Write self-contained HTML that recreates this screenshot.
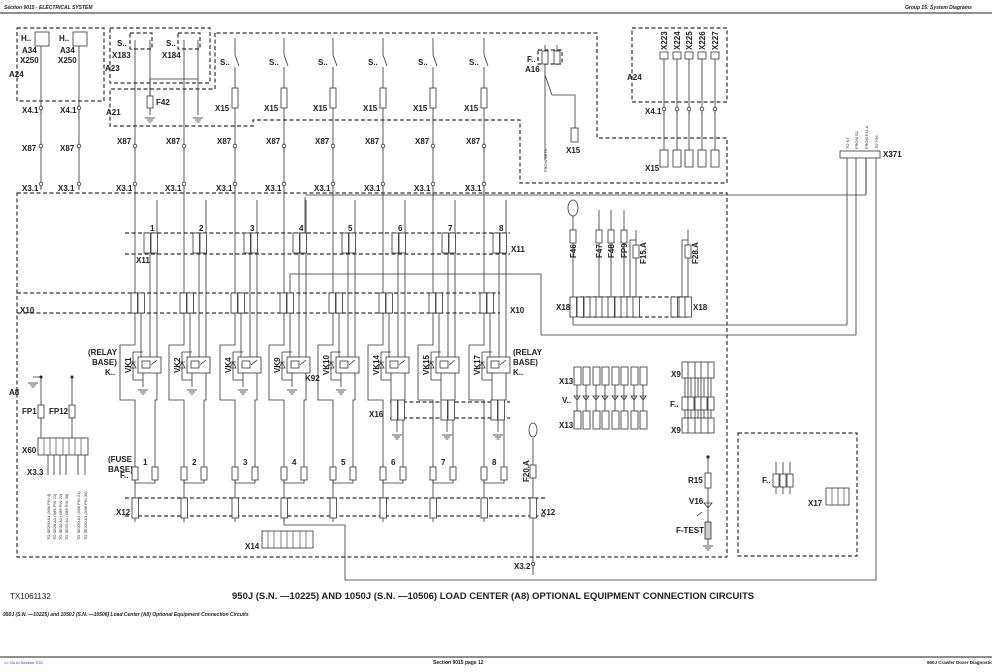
<!DOCTYPE html>
<html><head><meta charset="utf-8"><style>
html,body{margin:0;padding:0;background:#fff}
svg{display:block}
text{font-family:"Liberation Sans",sans-serif;font-weight:bold;fill:#222}
.l{font-size:8px}
.s{font-size:4px;font-weight:normal}
</style></head><body>
<svg width="992" height="672" viewBox="0 0 992 672" xmlns="http://www.w3.org/2000/svg">
<defs>
<g id="gnd" stroke="#333" stroke-width="0.8"><line x1="-5" y1="0" x2="5" y2="0"/><line x1="-3" y1="2" x2="3" y2="2"/><line x1="-1.5" y1="4" x2="1.5" y2="4"/></g>
<g id="pin" stroke="#333" stroke-width="0.8" fill="#fff"><circle cx="0" cy="-2" r="1.8"/><line x1="0" y1="0" x2="0" y2="3"/></g>
<rect id="fz" x="-3" y="0" width="6" height="13" fill="#fff" stroke="#333" stroke-width="0.8"/>
<rect id="cn" x="-3" y="0" width="6.5" height="20" fill="#fff" stroke="#333" stroke-width="0.8"/>
<g id="col" stroke="#333" stroke-width="0.8" fill="none">
  <path d="M0,190 V345 H-15 V400 H0 V498"/>
  <line x1="0" y1="517" x2="0" y2="522"/>
  <line x1="6" y1="313" x2="6" y2="357"/>
  <line x1="15" y1="253" x2="15" y2="357"/>
  <path d="M22,200 V357 M22,373 V400 H20 V468"/>
  <rect x="3" y="357" width="23" height="16" fill="#fff"/>
  <rect x="7" y="361" width="8" height="7"/>
  <path d="M-2,352 V380 M-5,362 H1 M-2,362 L-5,368 H1 Z M-2,352 H8 M-2,380 H8"/>
  <path d="M8,373 V387"/>
  <path d="M16,365 L22,360"/>
  <path d="M0,480 V483 H20 V480"/>
  <use href="#cn" x="-1" y="293"/><use href="#cn" x="6" y="293"/>
  <use href="#cn" x="12" y="233"/><use href="#cn" x="19" y="233"/>
  <use href="#fz" x="0" y="467"/><use href="#fz" x="20" y="467"/>
  <use href="#cn" x="0" y="498"/>
</g>
<g id="sw" stroke="#333" stroke-width="0.8" fill="none"><line x1="0" y1="38" x2="0" y2="55"/><line x1="0" y1="55" x2="4" y2="66"/><line x1="0" y1="67" x2="0" y2="190"/><rect x="-3" y="88" width="6" height="20" fill="#fff"/></g>
</defs>

<!-- header -->
<text x="4" y="9" style="font-size:5px;font-style:italic">Section 9015 - ELECTRICAL SYSTEM</text>
<text x="905" y="9" style="font-size:5px;font-style:italic">Group 15: System Diagrams</text>
<line x1="0" y1="13" x2="992" y2="13" stroke="#222" stroke-width="1"/>

<g stroke="#333" stroke-width="1.2" fill="none" stroke-dasharray="4,2.5">
  <rect x="17" y="28" width="87" height="73"/>
  <path d="M110,28 H210 V83 H110 Z"/>
  <path d="M215,33 V89 H110 V126 H253 V120 H520 V183 H727 V138 H597 V33 Z"/>
  <rect x="632" y="28" width="95" height="74"/>
  <rect x="17" y="193" width="710" height="364"/>
  <rect x="738" y="433" width="119" height="123"/>
  <path d="M125,233 H510 M125,254 H510"/>
  <path d="M17,293 H500 M17,313 H500"/>
  <path d="M390,402 H510 M390,418 H510"/>
  <path d="M125,498 H545 M125,516 H545"/>
  <path d="M580,297 H690 M580,317 H690"/>
  <rect x="538" y="50" width="24" height="14"/>
  <rect x="130" y="33" width="22" height="16"/><rect x="178" y="33" width="22" height="16"/>
</g>

<!-- top left A34 -->
<g stroke="#333" stroke-width="0.8" fill="none">
  <rect x="35" y="32" width="14" height="14"/><rect x="73" y="32" width="14" height="14"/>
  <line x1="41" y1="46" x2="41" y2="190"/><line x1="79" y1="46" x2="79" y2="190"/>
  <line x1="135" y1="40" x2="135" y2="190"/><line x1="150" y1="40" x2="150" y2="100"/>
  <line x1="184" y1="40" x2="184" y2="190"/><line x1="198" y1="40" x2="198" y2="80"/>
  <path d="M150,79 H198 M150,79 V115 M198,80 V115"/>
  <rect x="147" y="96" width="6" height="12" fill="#fff"/>
  <line x1="305" y1="197" x2="305" y2="233"/>
  <path d="M305,195 H866 M290,293 V274 H541 V335 H856 M573,325 H847"/>
  <path d="M847,158 V325 M856,158 V335 M866,158 V195 M876,158 V580 H345 V525 H284 V517"/>
  <rect x="840" y="151" width="40" height="7" fill="#fff"/>
  <path d="M866,158 V195"/>
</g>
<use href="#gnd" x="150" y="118"/><use href="#gnd" x="198" y="118"/>
<text class="l" x="21" y="41">H..</text><text class="l" x="59" y="41">H..</text>
<text class="l" x="22" y="53">A34</text><text class="l" x="60" y="53">A34</text>
<text class="l" x="20" y="63">X250</text><text class="l" x="58" y="63">X250</text>
<text class="l" x="9" y="77">A24</text>
<text class="l" x="117" y="46">S..</text><text class="l" x="166" y="46">S..</text>
<text class="l" x="112" y="58">X183</text><text class="l" x="162" y="58">X184</text>
<text class="l" x="105" y="71">A23</text>
<text class="l" x="106" y="115">A21</text>
<text class="l" x="156" y="105">F42</text>

<!-- switch columns -->
<use href="#sw" x="235"/><use href="#sw" x="284"/><use href="#sw" x="333"/><use href="#sw" x="383"/><use href="#sw" x="433"/><use href="#sw" x="484"/>
<text class="l" x="220" y="65">S..</text><text class="l" x="269" y="65">S..</text><text class="l" x="318" y="65">S..</text><text class="l" x="368" y="65">S..</text><text class="l" x="418" y="65">S..</text><text class="l" x="469" y="65">S..</text>
<text class="l" x="215" y="111">X15</text><text class="l" x="264" y="111">X15</text><text class="l" x="313" y="111">X15</text><text class="l" x="363" y="111">X15</text><text class="l" x="413" y="111">X15</text><text class="l" x="464" y="111">X15</text>

<!-- pins rows -->
<g>
<use href="#pin" x="41" y="110"/><use href="#pin" x="79" y="110"/>
<use href="#pin" x="41" y="148"/><use href="#pin" x="79" y="148"/>
<use href="#pin" x="135" y="148"/><use href="#pin" x="184" y="148"/><use href="#pin" x="235" y="148"/><use href="#pin" x="284" y="148"/><use href="#pin" x="333" y="148"/><use href="#pin" x="383" y="148"/><use href="#pin" x="433" y="148"/><use href="#pin" x="484" y="148"/>
<use href="#pin" x="41" y="186"/><use href="#pin" x="79" y="186"/>
<use href="#pin" x="135" y="186"/><use href="#pin" x="184" y="186"/><use href="#pin" x="235" y="186"/><use href="#pin" x="284" y="186"/><use href="#pin" x="333" y="186"/><use href="#pin" x="383" y="186"/><use href="#pin" x="433" y="186"/><use href="#pin" x="484" y="186"/>
</g>
<text class="l" x="22" y="113">X4.1</text><text class="l" x="60" y="113">X4.1</text>
<text class="l" x="22" y="151">X87</text><text class="l" x="60" y="151">X87</text>
<text class="l" x="117" y="144">X87</text><text class="l" x="166" y="144">X87</text><text class="l" x="217" y="144">X87</text><text class="l" x="266" y="144">X87</text><text class="l" x="315" y="144">X87</text><text class="l" x="365" y="144">X87</text><text class="l" x="415" y="144">X87</text><text class="l" x="466" y="144">X87</text>
<text class="l" x="22" y="191">X3.1</text><text class="l" x="58" y="191">X3.1</text>
<text class="l" x="116" y="191">X3.1</text><text class="l" x="165" y="191">X3.1</text><text class="l" x="216" y="191">X3.1</text><text class="l" x="265" y="191">X3.1</text><text class="l" x="314" y="191">X3.1</text><text class="l" x="364" y="191">X3.1</text><text class="l" x="414" y="191">X3.1</text><text class="l" x="465" y="191">X3.1</text>

<!-- relay columns -->
<use href="#col" x="135"/><use href="#col" x="184"/><use href="#col" x="235"/><use href="#col" x="284"/><use href="#col" x="333"/><use href="#col" x="383"/><use href="#col" x="433"/><use href="#col" x="484"/>
<use href="#gnd" x="143" y="390"/><use href="#gnd" x="192" y="390"/><use href="#gnd" x="243" y="390"/><use href="#gnd" x="292" y="390"/><use href="#gnd" x="341" y="390"/>
<g stroke="#333" stroke-width="0.8" fill="none">
<path d="M391,387 V404 M441,387 V404 M492,387 V404"/>
<path d="M397,418 V432 M447,418 V432 M498,418 V432"/>
</g>
<use href="#cn" x="394" y="400"/><use href="#cn" x="401" y="400"/><use href="#cn" x="444" y="400"/><use href="#cn" x="451" y="400"/><use href="#cn" x="494" y="400"/><use href="#cn" x="501" y="400"/>
<use href="#gnd" x="397" y="435"/><use href="#gnd" x="447" y="435"/><use href="#gnd" x="498" y="435"/>
<text class="l" x="150" y="231">1</text><text class="l" x="199" y="231">2</text><text class="l" x="250" y="231">3</text><text class="l" x="299" y="231">4</text><text class="l" x="348" y="231">5</text><text class="l" x="398" y="231">6</text><text class="l" x="448" y="231">7</text><text class="l" x="499" y="231">8</text>
<text class="l" x="136" y="263">X11</text><text class="l" x="511" y="252">X11</text>
<text class="l" x="20" y="313">X10</text><text class="l" x="510" y="313">X10</text>
<g class="l">
<text class="l" x="88" y="355">(RELAY</text><text class="l" x="92" y="365">BASE)</text><text class="l" x="105" y="375">K..</text>
<text class="l" x="513" y="355">(RELAY</text><text class="l" x="513" y="365">BASE)</text><text class="l" x="513" y="375">K..</text>
</g>
<text class="l" transform="translate(131,373) rotate(-90)">VK1</text>
<text class="l" transform="translate(180,373) rotate(-90)">VK2</text>
<text class="l" transform="translate(231,373) rotate(-90)">VK4</text>
<text class="l" transform="translate(280,373) rotate(-90)">VK9</text>
<text class="l" transform="translate(329,375) rotate(-90)">VK10</text>
<text class="l" transform="translate(379,375) rotate(-90)">VK14</text>
<text class="l" transform="translate(429,375) rotate(-90)">VK15</text>
<text class="l" transform="translate(480,375) rotate(-90)">VK17</text>
<text class="l" x="305" y="381">K92</text>
<text class="l" x="369" y="417">X16</text>
<text class="l" x="108" y="462">(FUSE</text><text class="l" x="108" y="472">BASE)</text>
<text class="l" x="120" y="478">F..</text>
<text class="l" x="143" y="465">1</text><text class="l" x="192" y="465">2</text><text class="l" x="243" y="465">3</text><text class="l" x="292" y="465">4</text><text class="l" x="341" y="465">5</text><text class="l" x="391" y="465">6</text><text class="l" x="441" y="465">7</text><text class="l" x="492" y="465">8</text>
<text class="l" x="116" y="515">X12</text><text class="l" x="541" y="515">X12</text>
<rect x="262" y="531" width="51" height="17" fill="#fff" stroke="#333" stroke-width="0.8"/>
<g stroke="#333" stroke-width="0.6"><path d="M268,531V548M274,531V548M281,531V548M287,531V548M293,531V548M300,531V548M306,531V548"/></g>
<text class="l" x="245" y="549">X14</text>

<!-- left A8 -->
<text class="l" x="9" y="395">A8</text>
<use href="#gnd" x="33" y="383"/>
<g stroke="#333" stroke-width="0.8" fill="none"><path d="M41,377 V438 M33,377 H41 M72,377 V438 M48,455 V475 M54,455 V475 M60,455 V475 M66,455 V475 M78,455 V475 M85,455 V475"/></g>
<circle cx="41" cy="377" r="1.5" fill="#222"/><circle cx="72" cy="377" r="1.5" fill="#222"/>
<use href="#fz" x="41" y="405"/><use href="#fz" x="72" y="405"/>
<text class="l" x="22" y="414">FP1</text><text class="l" x="49" y="414">FP12</text>
<rect x="38" y="438" width="50" height="17" fill="#fff" stroke="#333" stroke-width="0.8"/>
<g stroke="#333" stroke-width="0.6"><path d="M44,438V455M50,438V455M56,438V455M63,438V455M69,438V455M75,438V455M81,438V455"/></g>
<text class="l" x="22" y="453">X60</text>
<text class="l" x="27" y="475">X3.3</text>
<g class="s">
<text class="s" transform="translate(50,540) rotate(-90)">TO SE200 A1 (X86 PIN 4)</text>
<text class="s" transform="translate(56,540) rotate(-90)">TO SE28 A1 (X86 PIN 21)</text>
<text class="s" transform="translate(62,540) rotate(-90)">TO SE20 A1 (X86 PIN 22)</text>
<text class="s" transform="translate(68,540) rotate(-90)">TO SE20 A1 (X86 PIN 30)</text>
<text class="s" transform="translate(80,540) rotate(-90)">TO SE220 A1 (X86 PIN 21)</text>
<text class="s" transform="translate(87,540) rotate(-90)">TO SE220 A1 (X86 PIN 30)</text>
</g>

<!-- A16 -->
<g stroke="#333" stroke-width="0.8" fill="none">
<path d="M545,45 V160 M557,45 V65 M545,75 L552,95 H575 V128"/>
</g>
<use href="#fz" x="545" y="51"/><use href="#fz" x="557" y="51"/>
<rect x="571" y="128" width="7" height="14" fill="#fff" stroke="#333" stroke-width="0.8"/>
<text class="l" x="527" y="62">F..</text><text class="l" x="525" y="72">A16</text>
<text class="l" x="566" y="153">X15</text>
<text class="s" transform="translate(547,172) rotate(-90)">FROM SE74</text>

<!-- right A24 -->
<g stroke="#333" stroke-width="0.8" fill="none">
<path d="M664,58 V150 M677,58 V150 M689,58 V150 M702,58 V150 M715,58 V150"/>
</g>
<g fill="#fff" stroke="#333" stroke-width="0.8">
<rect x="660" y="52" width="8" height="7"/><rect x="673" y="52" width="8" height="7"/><rect x="685" y="52" width="8" height="7"/><rect x="698" y="52" width="8" height="7"/><rect x="711" y="52" width="8" height="7"/>
<rect x="660" y="150" width="8" height="17"/><rect x="673" y="150" width="8" height="17"/><rect x="685" y="150" width="8" height="17"/><rect x="698" y="150" width="8" height="17"/><rect x="711" y="150" width="8" height="17"/>
</g>
<use href="#pin" x="664" y="111"/><use href="#pin" x="677" y="111"/><use href="#pin" x="689" y="111"/><use href="#pin" x="702" y="111"/><use href="#pin" x="715" y="111"/>
<text class="l" transform="translate(667,50) rotate(-90)">X223</text>
<text class="l" transform="translate(680,50) rotate(-90)">X224</text>
<text class="l" transform="translate(692,50) rotate(-90)">X225</text>
<text class="l" transform="translate(705,50) rotate(-90)">X226</text>
<text class="l" transform="translate(718,50) rotate(-90)">X227</text>
<text class="l" x="627" y="80">A24</text>
<text class="l" x="645" y="114">X4.1</text>
<text class="l" x="645" y="171">X15</text>
<text class="l" x="883" y="157">X371</text>
<text class="s" transform="translate(849,149) rotate(-90)">TO K7</text>
<text class="s" transform="translate(858,149) rotate(-90)">FROM S2</text>
<text class="s" transform="translate(868,149) rotate(-90)">FROM F11.A</text>
<text class="s" transform="translate(878,149) rotate(-90)">TO Y56</text>

<!-- X18 area -->
<g stroke="#333" stroke-width="0.8" fill="none">
<ellipse cx="573" cy="208" rx="5" ry="8"/>
<path d="M573,216 V297 M599,210 V297 M611,210 V297 M624,210 V297 M630,297 V240 H636 V297 M636,230 V245 M682,297 V240 H688 V297 M688,230 V245 M573,317 V325"/>
</g>
<g>
<use href="#fz" x="573" y="230"/><use href="#fz" x="599" y="230"/><use href="#fz" x="611" y="230"/><use href="#fz" x="624" y="230"/><use href="#fz" x="636" y="245"/><use href="#fz" x="688" y="245"/>
<use href="#cn" x="573" y="297"/><use href="#cn" x="580" y="297"/><use href="#cn" x="587" y="297"/><use href="#cn" x="593" y="297"/><use href="#cn" x="599" y="297"/><use href="#cn" x="605" y="297"/><use href="#cn" x="611" y="297"/><use href="#cn" x="618" y="297"/><use href="#cn" x="624" y="297"/><use href="#cn" x="630" y="297"/><use href="#cn" x="636" y="297"/>
<use href="#cn" x="674" y="297"/><use href="#cn" x="682" y="297"/><use href="#cn" x="688" y="297"/>
</g>
<text class="l" transform="translate(576,258) rotate(-90)">F46</text>
<text class="l" transform="translate(602,258) rotate(-90)">F47</text>
<text class="l" transform="translate(614,258) rotate(-90)">F48</text>
<text class="l" transform="translate(627,258) rotate(-90)">FP9</text>
<text class="l" transform="translate(646,264) rotate(-90)">F15.A</text>
<text class="l" transform="translate(698,264) rotate(-90)">F28.A</text>
<text class="l" x="556" y="310">X18</text><text class="l" x="693" y="310">X18</text>

<!-- X13 -->
<g fill="#fff" stroke="#333" stroke-width="0.8">
<rect x="574" y="367" width="7" height="18"/><rect x="583" y="367" width="7" height="18"/><rect x="593" y="367" width="7" height="18"/><rect x="602" y="367" width="7" height="18"/><rect x="612" y="367" width="7" height="18"/><rect x="621" y="367" width="7" height="18"/><rect x="631" y="367" width="7" height="18"/><rect x="640" y="367" width="7" height="18"/>
<rect x="574" y="411" width="7" height="18"/><rect x="583" y="411" width="7" height="18"/><rect x="593" y="411" width="7" height="18"/><rect x="602" y="411" width="7" height="18"/><rect x="612" y="411" width="7" height="18"/><rect x="621" y="411" width="7" height="18"/><rect x="631" y="411" width="7" height="18"/><rect x="640" y="411" width="7" height="18"/>
</g>
<g stroke="#333" stroke-width="0.8" fill="none">
<path d="M577,385V411M586,385V411M596,385V411M605,385V411M615,385V411M624,385V411M634,385V411M643,385V411"/>
<path d="M574,396h6l-3,4zM583,396h6l-3,4zM593,396h6l-3,4zM602,396h6l-3,4zM612,396h6l-3,4zM621,396h6l-3,4zM631,396h6l-3,4zM640,396h6l-3,4z"/>
</g>
<text class="l" x="559" y="384">X13</text><text class="l" x="559" y="428">X13</text><text class="l" x="562" y="403">V..</text>

<!-- X9 -->
<g fill="#fff" stroke="#333" stroke-width="0.8">
<rect x="682" y="362" width="32" height="16"/><rect x="682" y="418" width="32" height="15"/>
</g>
<g stroke="#333" stroke-width="0.8" fill="none">
<path d="M688,362V433M695,362V433M701,362V433M708,362V433M685,378V418M691,378V418M698,378V418M704,378V418M711,378V418"/>
</g>
<use href="#fz" x="685" y="397"/><use href="#fz" x="691" y="397"/><use href="#fz" x="698" y="397"/><use href="#fz" x="704" y="397"/><use href="#fz" x="711" y="397"/>
<text class="l" x="671" y="377">X9</text><text class="l" x="671" y="433">X9</text><text class="l" x="670" y="407">F..</text>

<!-- R15 -->
<g stroke="#333" stroke-width="0.8" fill="none"><path d="M708,457 V545 M704,503 h8 l-4,5z M702,512 l-5,4"/></g>
<circle cx="708" cy="457" r="1.6" fill="#222"/>
<rect x="705" y="473" width="6" height="15" fill="#fff" stroke="#333" stroke-width="0.8"/>
<rect x="705" y="522" width="6" height="17" fill="#ccc" stroke="#333" stroke-width="0.8"/>
<use href="#gnd" x="708" y="546"/>
<text class="l" x="688" y="483">R15</text><text class="l" x="689" y="504">V16</text><text class="l" x="676" y="533">F-TEST</text>

<!-- F20.A -->
<g stroke="#333" stroke-width="0.8" fill="none"><ellipse cx="533" cy="430" rx="4" ry="7"/><path d="M533,438 V498 M533,517 V575"/></g>
<use href="#fz" x="533" y="465"/><use href="#cn" x="533" y="498"/>
<use href="#pin" x="533" y="566"/>
<text class="l" transform="translate(529,482) rotate(-90)">F20.A</text>
<text class="l" x="514" y="569">X3.2</text>

<!-- right box -->
<g stroke="#333" stroke-width="0.8" fill="none"><path d="M776,462V494M783,462V494M790,462V494"/></g>
<use href="#fz" x="776" y="474"/><use href="#fz" x="783" y="474"/><use href="#fz" x="790" y="474"/>
<text class="l" x="762" y="483">F..</text>
<rect x="826" y="488" width="23" height="17" fill="#fff" stroke="#333" stroke-width="0.8"/>
<g stroke="#333" stroke-width="0.6"><path d="M832,488V505M838,488V505M844,488V505"/></g>
<text class="l" x="808" y="506">X17</text>

<!-- captions -->
<text x="10" y="599" style="font-size:8px;font-weight:normal">TX1061132</text>
<text x="232" y="599" style="font-size:9.5px">950J (S.N. —10225) AND 1050J (S.N. —10506) LOAD CENTER (A8) OPTIONAL EQUIPMENT CONNECTION CIRCUITS</text>
<text x="3" y="616" style="font-size:5px;font-style:italic">950J (S.N. —10225) and 1050J (S.N. —10506) Load Center (A8) Optional Equipment Connection Circuits</text>
<line x1="0" y1="657" x2="992" y2="657" stroke="#222" stroke-width="1"/>
<text x="4" y="664" style="font-size:4px;fill:#23c;font-weight:normal">&lt;&lt; Go to Section TOC</text>
<text x="433" y="664" style="font-size:5px">Section 9015 page 12</text>
<text x="927" y="664" style="font-size:4.5px">950J Crawler Dozer Diagnostic</text>
</svg>
</body></html>
